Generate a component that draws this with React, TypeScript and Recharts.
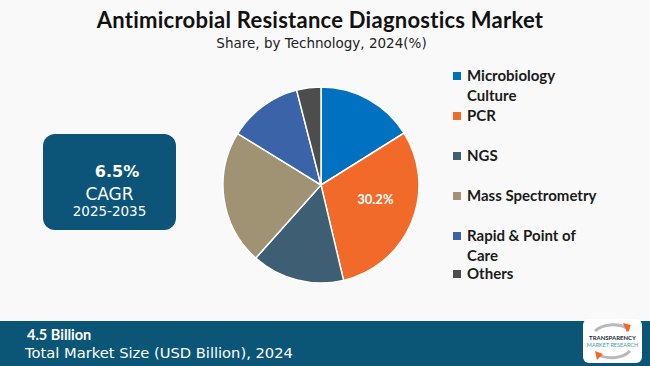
import { PieChart, Pie, Cell, Legend } from "recharts";

const segments = ["Microbiology Culture", "PCR", "NGS", "Mass Spectrometry", "Rapid & Point of Care", "Others"];
const shares = [16.1, 30.2, 15.3, 22.2, 12.2, 4.0];
const colors = ["#0070C0", "#F26A2A", "#3E5F73", "#A09373", "#3A63A8", "#4D4D4D"];
const legendLines = [["Microbiology", "Culture"], ["PCR"], ["NGS"], ["Mass Spectrometry"], ["Rapid & Point of", "Care"], ["Others"]];
const legendTops = [66, 106, 146, 186, 226, 264];

const data = segments.map((name, i) => ({ name, value: shares[i] }));

const RADIAN = Math.PI / 180;

// only the biggest slice gets a label, like the original
const renderLabel = (props: any) => {
  const { cx, cy, midAngle, outerRadius, index, value } = props;
  if (index !== 1) return null;
  const r = outerRadius * 0.6;
  const x = cx + r * Math.cos(-midAngle * RADIAN);
  const y = cy + r * Math.sin(-midAngle * RADIAN) - 8;
  return (
    <text x={x} y={y} fill="#fff" textAnchor="middle" dominantBaseline="central"
      style={{ fontFamily: "Lato, sans-serif", fontWeight: 700, fontSize: 13 }}>
      {value.toFixed(1)}%
    </text>
  );
};

const LegendContent = () => (
  <div style={{ position: "relative", width: 190, height: 290 }}>
    {legendLines.map((lines, i) => (
      <div key={i} style={{ position: "absolute", left: 0, top: legendTops[i], display: "flex" }}>
        <div style={{ width: 8, height: 8, background: colors[i], marginTop: 6, marginRight: 6 }} />
        <div style={{ fontFamily: "Lato, sans-serif", fontWeight: 700, fontSize: 15, color: "#1b1b1b", lineHeight: "19.5px" }}>
          {lines.map((l, j) => <div key={j}>{l}</div>)}
        </div>
      </div>
    ))}
  </div>
);

const Logo = () => (
  <svg width={59} height={44} style={{ position: "absolute", left: 583, top: -2 }}>
    <rect x={0} y={0} width={59} height={44} rx={6} fill="#fff" />
    <path d="M12 12 A22 14 0 0 1 44 9" stroke="#b9b9b9" strokeWidth={3} fill="none" />
    <path d="M40 4 L48 6 L44 13 Z" fill="#F26A2A" />
    <path d="M44 12 L46 8" stroke="#F26A2A" strokeWidth={3} />
    <path d="M47 32 A22 14 0 0 1 15 36" stroke="#b9b9b9" strokeWidth={3} fill="none" />
    <path d="M12 32 L20 35 L14 41 Z" fill="#F26A2A" />
    <text x={29.5} y={21} textAnchor="middle" fontFamily="Lato, sans-serif" fontWeight={700} fontSize={6} fill="#1d2b3a">TRANSPARENCY</text>
    <text x={29.5} y={28} textAnchor="middle" fontFamily="Lato, sans-serif" fontSize={5.5} fill="#3a9aa8">MARKET RESEARCH</text>
  </svg>
);

export default function App() {
  return (
    <div style={{ position: "absolute", left: 0, top: 0, width: 650, height: 366, background: "#F9F9F9", overflow: "hidden" }}>
      <div style={{ position: "absolute", left: 0, top: 6, width: 640, textAlign: "center", fontFamily: "Lato, sans-serif", fontWeight: 700, fontSize: 22, letterSpacing: 0.25, color: "#111" }}>
        Antimicrobial Resistance Diagnostics Market
      </div>
      <div style={{ position: "absolute", left: 0, top: 35, width: 643, textAlign: "center", fontFamily: "'DejaVu Sans', sans-serif", fontSize: 13.5, color: "#222" }}>
        Share, by Technology, 2024(%)
      </div>

      <div style={{ position: "absolute", left: 43, top: 134, width: 133, height: 96, background: "#0C5578", borderRadius: 12, color: "#fff", textAlign: "center", fontFamily: "'DejaVu Sans', sans-serif" }}>
        <div style={{ fontWeight: 700, fontSize: 16, marginTop: 29, marginLeft: 15, lineHeight: "18px" }}>6.5%</div>
        <div style={{ fontSize: 17, marginTop: 2, lineHeight: "22px" }}>CAGR</div>
        <div style={{ fontSize: 13.5, marginTop: -2, lineHeight: "16px" }}>2025-2035</div>
      </div>

      <div style={{ position: "absolute", left: 0, top: 0 }}>
        <PieChart width={650} height={320}>
          <Pie data={data} dataKey="value" nameKey="name" cx={316} cy={180} outerRadius={98}
            startAngle={90} endAngle={-270} stroke="#fff" strokeWidth={1.5}
            label={renderLabel} labelLine={false} isAnimationActive={false}>
            {data.map((d, i) => <Cell key={i} fill={colors[i]} />)}
          </Pie>
          <Legend layout="vertical" align="right" verticalAlign="top" content={LegendContent}
            wrapperStyle={{ left: 453, top: 0, width: 190 }} />
        </PieChart>
      </div>

      <div style={{ position: "absolute", left: 0, top: 321, width: 650, height: 45, background: "#0B5577" }}>
        <div style={{ position: "absolute", left: 27, top: 5, fontFamily: "Lato, sans-serif", fontWeight: 700, fontSize: 14.5, color: "#fff" }}>4.5 Billion</div>
        <div style={{ position: "absolute", left: 25, top: 23, fontFamily: "'DejaVu Sans', sans-serif", fontSize: 14.7, color: "#fff" }}>Total Market Size (USD Billion), 2024</div>
        <Logo />
      </div>
    </div>
  );
}
